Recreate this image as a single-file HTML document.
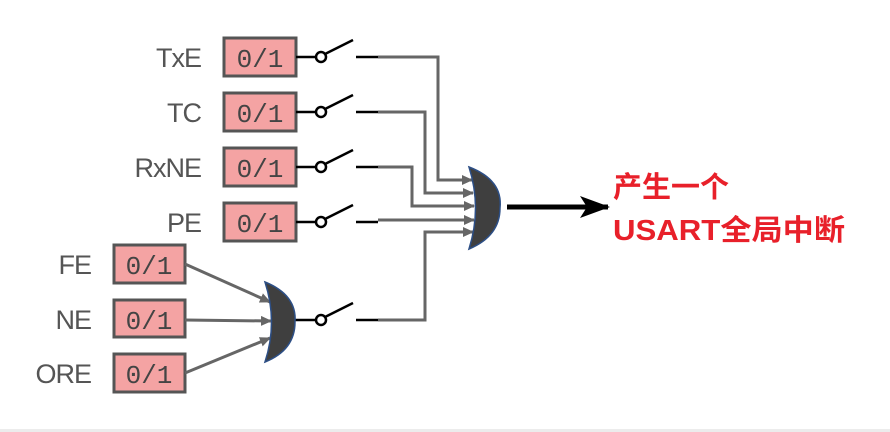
<!DOCTYPE html>
<html><head><meta charset="utf-8"><style>
html,body{margin:0;padding:0;background:#fff;width:890px;height:432px;overflow:hidden}
svg{display:block}
</style></head><body>
<svg width="890" height="432" viewBox="0 0 890 432" xmlns="http://www.w3.org/2000/svg">
<defs>
<marker id="ga" markerWidth="11" markerHeight="10" refX="10" refY="5" orient="auto" markerUnits="userSpaceOnUse"><path d="M0,0 L11,5 L0,10 z" fill="#666"/></marker>
<marker id="ba" markerWidth="30" markerHeight="22" refX="28" refY="11" orient="auto" markerUnits="userSpaceOnUse"><path d="M0,0 L30,11 L0,22 L7,11 z" fill="#000"/></marker>
</defs>
<rect x="0" y="429" width="890" height="3" fill="#ececec"/>
<g font-family="Liberation Sans, sans-serif" font-size="27" fill="#555" text-anchor="end" letter-spacing="-1">
<text x="201" y="67">TxE</text><text x="201" y="122">TC</text><text x="201" y="177">RxNE</text><text x="201" y="232">PE</text>
<text x="91" y="274">FE</text><text x="91" y="329">NE</text><text x="91" y="383">ORE</text>
</g>
<g fill="#f4a3a3" stroke="#555" stroke-width="3">
<rect x="224" y="38" width="72" height="38"/><rect x="224" y="93" width="72" height="38"/><rect x="224" y="148" width="72" height="38"/><rect x="224" y="203" width="72" height="38"/>
<rect x="114" y="245" width="71" height="38"/><rect x="114" y="300" width="71" height="37"/><rect x="114" y="354" width="71" height="38"/>
</g>
<g font-family="Liberation Mono, monospace" font-size="26" fill="#444" text-anchor="middle">
<text x="260" y="67">0/1</text><text x="260" y="122">0/1</text><text x="260" y="177">0/1</text><text x="260" y="232">0/1</text>
<text x="149" y="274">0/1</text><text x="149" y="329">0/1</text><text x="149" y="383">0/1</text>
</g>
<g stroke="#000" stroke-width="2.5" fill="#fff">
<g id="sw"><line x1="296" y1="57" x2="316" y2="57"/><line x1="325" y1="54" x2="353" y2="40"/><line x1="356" y1="57" x2="378" y2="57"/><circle cx="321" cy="57" r="5"/></g>
<use href="#sw" y="55"/><use href="#sw" y="110"/><use href="#sw" y="165"/>
<line x1="295" y1="320" x2="316" y2="320"/><line x1="325" y1="317" x2="353" y2="303"/><line x1="356" y1="320" x2="378" y2="320"/><circle cx="321" cy="320" r="5"/>
</g>
<g stroke="#666" stroke-width="3" fill="none">
<path d="M378,57 H438 V180 H472" marker-end="url(#ga)"/>
<path d="M378,112 H425 V193 H473" marker-end="url(#ga)"/>
<path d="M378,167 H412 V206 H474" marker-end="url(#ga)"/>
<path d="M378,220 H474" marker-end="url(#ga)"/>
<path d="M378,320 H425 V232 H473" marker-end="url(#ga)"/>
<path d="M185,264 L270,302" marker-end="url(#ga)"/>
<path d="M185,320 L271,321" marker-end="url(#ga)"/>
<path d="M185,373 L270,338" marker-end="url(#ga)"/>
</g>
<path d="M469,167 Q503,180 500,208 Q500,236 469,249 Q482,208 469,167 z" fill="#3f3f3f" stroke="#2d4f86" stroke-width="1.5"/>
<path d="M265,282 Q297,295 295,322 Q295,350 265,362 Q278,322 265,282 z" fill="#3f3f3f" stroke="#2d4f86" stroke-width="1.5"/>
<line x1="507" y1="207" x2="608" y2="207" stroke="#000" stroke-width="5" marker-end="url(#ba)"/>
<g font-family="Liberation Sans, 'Noto Sans CJK SC', sans-serif" font-size="29" font-weight="bold" fill="#e8202a">
<text x="613" y="197">产生一个</text>
<text x="613" y="240" textLength="232" lengthAdjust="spacingAndGlyphs">USART全局中断</text>
</g>
</svg>
</body></html>
